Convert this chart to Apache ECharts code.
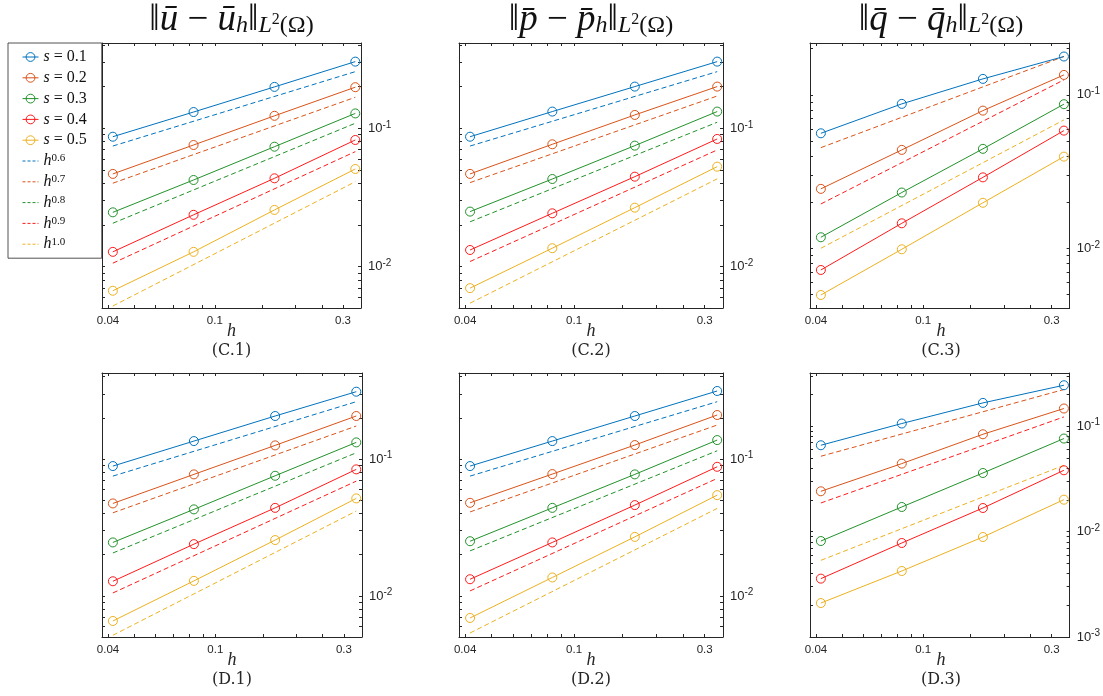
<!DOCTYPE html>
<html><head><meta charset="utf-8">
<script src="https://cdn.jsdelivr.net/npm/echarts@6/dist/echarts.min.js"></script>
<style>html,body{margin:0;padding:0;background:#fff}#c{width:1103px;height:696px}</style>
</head><body><div id="c"></div>
<script>
// ---------------- data ----------------
const hVals = [0.0417, 0.0833, 0.1667, 0.3333];   // mesh sizes
const hRef = [0.0417, 0.3333];                      // ends of reference lines
const sNames = ['s = 0.1', 's = 0.2', 's = 0.3', 's = 0.4', 's = 0.5'];
const rateNames = ['h^0.6', 'h^0.7', 'h^0.8', 'h^0.9', 'h^1.0'];
const xTickValues = [0.04, 0.05, 0.06, 0.07, 0.08, 0.09, 0.1, 0.15, 0.2, 0.25, 0.3];
const xTickLabels = [0.04, 0.1, 0.3];
const yTickValues = [0.001, 0.002, 0.003, 0.004, 0.005, 0.006, 0.007, 0.008, 0.009,
                     0.01, 0.02, 0.03, 0.04, 0.05, 0.06, 0.07, 0.08, 0.09,
                     0.1, 0.2, 0.3, 0.4, 0.5];
const yTickLabels = [0.001, 0.01, 0.1];
const panelLabels = ['(C.1)', '(C.2)', '(C.3)', '(D.1)', '(D.2)', '(D.3)'];
const xName = 'h';
const titleLetters = ['u', 'p', 'q'];

const C1_err = [
  [0.0869, 0.131, 0.199, 0.303],
  [0.0468, 0.0757, 0.123, 0.198],
  [0.0247, 0.0423, 0.0736, 0.128],
  [0.0128, 0.0237, 0.0435, 0.0823],
  [0.0067, 0.0128, 0.0257, 0.0508]
];
const C1_ref = [[0.0744, 0.2565], [0.0401, 0.1674], [0.0206, 0.1087], [0.0106, 0.0678], [0.0052, 0.0411]];

const C2_err = [
  [0.0869, 0.132, 0.200, 0.303],
  [0.0468, 0.0766, 0.1248, 0.200],
  [0.0250, 0.0430, 0.0749, 0.132],
  [0.0132, 0.0243, 0.0447, 0.0837],
  [0.0070, 0.0136, 0.0267, 0.0528]
];
const C2_ref = [[0.0744, 0.2565], [0.0405, 0.171], [0.0211, 0.1105], [0.0109, 0.0697], [0.00545, 0.0431]];

const C3_err = [
  [0.0562, 0.0874, 0.1272, 0.178],
  [0.0244, 0.0438, 0.0790, 0.135],
  [0.0118, 0.0231, 0.0445, 0.0870],
  [0.00722, 0.01455, 0.0290, 0.0585],
  [0.00496, 0.00985, 0.0198, 0.0396]
];
const C3_ref = [null, [0.0453, 0.178], null, [0.01945, 0.1253], [0.0100, 0.0687]];

const D1_err = [
  [0.0889, 0.1354, 0.2064, 0.3107],
  [0.0474, 0.0773, 0.1259, 0.2064],
  [0.0246, 0.0429, 0.0755, 0.1324],
  [0.0128, 0.0239, 0.0440, 0.0841],
  [0.00656, 0.01288, 0.0256, 0.0516]
];
const D1_ref = [[0.0751, 0.2626], [0.0405, 0.1743], [0.0206, 0.1112], [0.01051, 0.0690], [0.00516, 0.0417]];

const D2_err = [
  [0.0889, 0.1354, 0.2064, 0.3144],
  [0.0479, 0.0777, 0.1266, 0.2099],
  [0.0251, 0.0440, 0.0773, 0.1377],
  [0.01324, 0.0246, 0.0461, 0.0878],
  [0.0069, 0.01364, 0.0270, 0.0545]
];
const D2_ref = [[0.0751, 0.2626], [0.0411, 0.1773], [0.02134, 0.115], [0.01088, 0.0722], [0.00536, 0.0436]];

const D3_err = [
  [0.066, 0.1061, 0.1665, 0.245],
  [0.02414, 0.0442, 0.0839, 0.1473],
  [0.00814, 0.01713, 0.036, 0.0764],
  [0.00358, 0.0078, 0.01675, 0.0382],
  [0.0021, 0.00423, 0.00889, 0.0201]
];
const D3_ref = [null, [0.0519, 0.2231], null, [0.0187, 0.1226], [0.00534, 0.0426]];

// axis ranges
const xRange = [0.038, 0.35];
const yRanges = [[0.00503, 0.413], [0.00503, 0.413], [0.00408, 0.218],
                 [0.00501, 0.4256], [0.00501, 0.4256], [0.001, 0.32]];

// ---------------- layout / style ----------------
const colors = ['#0072BD', '#D95319', '#22922A', '#FF1A1A', '#EDB120'];
const grids = [
  {left: 102, top: 43, width: 259, height: 265},
  {left: 459, top: 43, width: 264, height: 265},
  {left: 810, top: 43, width: 262, height: 265},
  {left: 102, top: 373, width: 260, height: 264},
  {left: 459, top: 373, width: 264, height: 264},
  {left: 810, top: 373, width: 262, height: 264}
];
const panels = [[C1_err, C1_ref], [C2_err, C2_ref], [C3_err, C3_ref],
                [D1_err, D1_ref], [D2_err, D2_ref], [D3_err, D3_ref]];

const axisColor = '#262626';
const serif = 'Liberation Serif';
const sans = 'Liberation Sans';

const xAxes = [], yAxes = [], series = [], graphics = [];
panels.forEach((p, gi) => {
  const tickStyle = {color: axisColor, width: 1};
  xAxes.push({
    type: 'log', logBase: 10, gridIndex: gi, min: xRange[0], max: xRange[1], position: 'bottom',
    axisLine: {show: true, onZero: false, lineStyle: {color: axisColor, width: 1}},
    axisTick: {show: true, inside: true, length: 3, customValues: xTickValues, lineStyle: tickStyle},
    axisLabel: {show: true, customValues: xTickLabels, color: axisColor, fontSize: 11.5, fontFamily: sans, margin: 7,
      formatter: v => String(Number(Number(v).toPrecision(3)))},
    splitLine: {show: false}, minorTick: {show: false}
  });
  xAxes.push({
    type: 'log', logBase: 10, gridIndex: gi, min: xRange[0], max: xRange[1], position: 'top',
    axisLine: {show: true, onZero: false, lineStyle: {color: axisColor, width: 1}},
    axisTick: {show: true, inside: true, length: 3, customValues: xTickValues, lineStyle: tickStyle},
    axisLabel: {show: false}, splitLine: {show: false}
  });
  const yr = yRanges[gi];
  yAxes.push({
    type: 'log', logBase: 10, gridIndex: gi, min: yr[0], max: yr[1], position: 'right',
    axisLine: {show: true, onZero: false, lineStyle: {color: axisColor, width: 1}},
    axisTick: {show: true, inside: true, length: 3, customValues: yTickValues, lineStyle: tickStyle},
    axisLabel: {show: true, customValues: yTickLabels, margin: 7,
      formatter: v => '{b|10}{e|' + Math.round(Math.log10(v)) + '}',
      rich: {
        b: {fontFamily: sans, fontSize: 13, color: axisColor, lineHeight: 17},
        e: {fontFamily: sans, fontSize: 10, color: axisColor, lineHeight: 10, verticalAlign: 'top'}
      }},
    splitLine: {show: false}
  });
  yAxes.push({
    type: 'log', logBase: 10, gridIndex: gi, min: yr[0], max: yr[1], position: 'left',
    axisLine: {show: true, onZero: false, lineStyle: {color: axisColor, width: 1}},
    axisTick: {show: true, inside: true, length: 3, customValues: yTickValues, lineStyle: tickStyle},
    axisLabel: {show: false}, splitLine: {show: false}
  });

  const [err, ref] = p;
  err.forEach((vals, i) => {
    series.push({
      type: 'line', name: sNames[i], xAxisIndex: gi * 2, yAxisIndex: gi * 2,
      data: hVals.map((h, j) => [h, vals[j]]),
      symbol: 'circle', symbolSize: 9, showSymbol: true,
      lineStyle: {color: colors[i], width: 1},
      itemStyle: {color: 'rgba(255,255,255,0)', borderColor: colors[i], borderWidth: 1},
      emphasis: {disabled: true}, z: 3
    });
  });
  ref.forEach((vals, i) => {
    if (!vals) return;
    series.push({
      type: 'line', name: rateNames[i], xAxisIndex: gi * 2, yAxisIndex: gi * 2,
      data: hRef.map((h, j) => [h, vals[j]]),
      symbol: 'none',
      lineStyle: {color: colors[i], width: 1, type: [5, 3]},
      itemStyle: {color: colors[i]},
      emphasis: {disabled: true}, z: 2
    });
  });

  const g = grids[gi];
  const cx = g.left + g.width / 2;
  const bottom = g.top + g.height;
  graphics.push({
    type: 'text', x: cx, y: bottom + 23,
    style: {text: xName, font: 'italic 18px "' + serif + '"', fill: axisColor, align: 'center', verticalAlign: 'middle'}
  });
  graphics.push({
    type: 'text', x: cx, y: bottom + 43,
    style: {text: panelLabels[gi], font: '16px "DejaVu Serif"', fill: axisColor, align: 'center', verticalAlign: 'middle'}
  });
  if (gi < 3) {
    const c = titleLetters[gi] + '\u0304';
    graphics.push({
      type: 'text', x: cx, y: 20,
      style: {
        text: '{n|‖}{v|' + c + '}{n| − }{v|' + c + '}{sb|h}{n|‖}{sb|L}{sp|2}{sr|(Ω)}',
        align: 'center', verticalAlign: 'middle',
        rich: {
          n: {fontFamily: serif, fontSize: 37, lineHeight: 36, fill: '#111'},
          v: {fontFamily: serif, fontStyle: 'italic', fontSize: 37, lineHeight: 36, fill: '#111'},
          sb: {fontFamily: serif, fontStyle: 'italic', fontSize: 24, lineHeight: 20, padding: [18, 0, 0, 0], verticalAlign: 'bottom', fill: '#111'},
          sp: {fontFamily: serif, fontSize: 16, lineHeight: 14, fill: '#111'},
          sr: {fontFamily: serif, fontSize: 24, lineHeight: 20, padding: [18, 0, 0, 0], verticalAlign: 'bottom', fill: '#111'}
        }
      }
    });
  }
});

const legendData = sNames.map(n => ({name: n}))
  .concat(rateNames.map((n, i) => ({
    name: n,
    itemStyle: {opacity: 0},
    lineStyle: {color: colors[i], width: 1, type: [3, 2]}
  })));

const option = {
  animation: false,
  backgroundColor: '#fff',
  grid: grids.map(g => Object.assign({containLabel: false}, g)),
  xAxis: xAxes,
  yAxis: yAxes,
  legend: {
    orient: 'vertical', left: 8, top: 43,
    data: legendData,
    selectedMode: false,
    itemWidth: 16, itemHeight: 11, itemGap: 4.8,
    lineStyle: {width: 1},
    itemStyle: {borderWidth: 1},
    borderColor: axisColor, borderWidth: 0.8, backgroundColor: '#fff',
    padding: [6, 15, 6, 14],
    formatter: name => name.startsWith('s')
      ? '{i|s}{r| = ' + name.slice(4) + '}'
      : '{i|h}{sup|' + name.slice(2) + '}',
    textStyle: {
      lineHeight: 16,
      rich: {
        i: {fontFamily: serif, fontStyle: 'italic', fontSize: 16, lineHeight: 16, color: '#111'},
        r: {fontFamily: serif, fontSize: 16, lineHeight: 16, color: '#111'},
        sup: {fontFamily: serif, fontSize: 11, lineHeight: 10, verticalAlign: 'top', color: '#111'}
      }
    }
  },
  series: series,
  graphic: graphics
};

const chart = echarts.init(document.getElementById('c'), null, {renderer: 'canvas'});
chart.setOption(option);
</script></body></html>
